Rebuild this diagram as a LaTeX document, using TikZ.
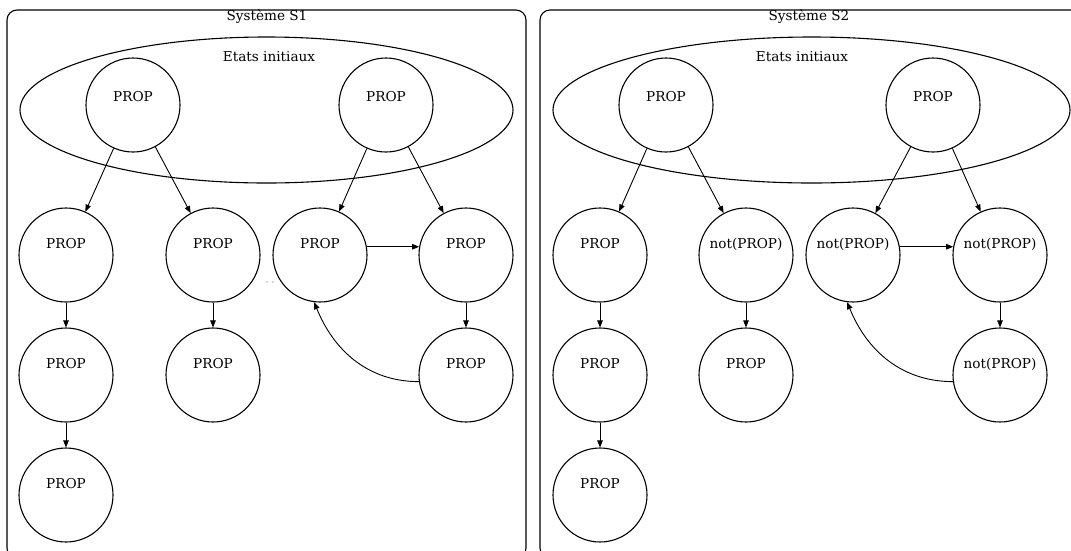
\documentclass[tikz,border=0pt]{standalone}
\usepackage{fontspec}
\setmainfont{DejaVu Serif}
\usetikzlibrary{arrows.meta}
\begin{document}
\begin{tikzpicture}[x=1pt,y=-1pt,
  every node/.style={font=\fontsize{13.6}{16}\selectfont},
  panel/.style={draw,line width=1.1pt,rounded corners=10pt},
  initset/.style={draw,line width=1.1pt},
  state/.style={draw,circle,line width=1.1pt,minimum size=94pt,inner sep=0pt},
  lbl/.style={label={[yshift=11pt]center:#1}},
  toplbl/.style={label={[yshift=8pt]center:#1}},
  arr/.style={line width=0.9pt,-{Triangle[length=7pt,width=5.5pt]}}]
\useasboundingbox (0,0) rectangle (1071,550);

% ---------- panels ----------
\draw[panel] (7,10) rectangle (526,558);
\draw[panel] (540,10) rectangle (1090,558);
\node (t1) at (267,17) {Système S1};
\node (t2) at (809,17) {Système S2};

% initial-state ellipses
\draw[initset] (266.5,110) ellipse [x radius=246.5, y radius=73];
\draw[initset] (811.5,110) ellipse [x radius=258.5, y radius=73];
\node (e1) at (269,57) {Etats initiaux};
\node (e2) at (802,57) {Etats initiaux};

% ---------- System S1 ----------
\node[state,toplbl=PROP] (a0) at (133,105) {};
\node[state,toplbl=PROP] (b0) at (386,105) {};
\node[state,lbl=PROP] (a1) at (66,255) {};
\node[state,lbl=PROP] (a2) at (66,375) {};
\node[state,lbl=PROP] (a3) at (66,495) {};
\node[state,lbl=PROP] (c1) at (213,255) {};
\node[state,lbl=PROP] (c2) at (213,375) {};
\node[state,lbl=PROP] (d1) at (320,255) {};
\node[state,lbl=PROP] (f1) at (466,255) {};
\node[state,lbl=PROP] (f2) at (466,375) {};
% small ellipsis between the two branches
\fill[black!70] (267,282) circle (0.7pt) (273,282) circle (0.7pt);

\draw[arr] (a0) -- (a1);
\draw[arr] (a0) -- (c1);
\draw[arr] (b0) -- (d1);
\draw[arr] (b0) -- (f1);
\draw[arr] (a1) -- (a2);
\draw[arr] (a2) -- (a3);
\draw[arr] (c1) -- (c2);
\draw[arr] (d1.10) -- (f1.170);
\draw[arr] (f1) -- (f2);
\draw[arr] (f2.188) to[out=180,in=-68] (d1.-97);

% ---------- System S2 ----------
\node[state,toplbl=PROP] (g0) at (666,105) {};
\node[state,toplbl=PROP] (h0) at (933,105) {};
\node[state,lbl=PROP] (g1) at (600,255) {};
\node[state,lbl=PROP] (g2) at (600,375) {};
\node[state,lbl=PROP] (g3) at (600,495) {};
\node[state,lbl=not(PROP)] (k1) at (746,255) {};
\node[state,lbl=PROP] (k2) at (746,375) {};
\node[state,lbl=not(PROP)] (m1) at (853,255) {};
\node[state,lbl=not(PROP)] (n1) at (1000,255) {};
\node[state,lbl=not(PROP)] (n2) at (1000,375) {};

\draw[arr] (g0) -- (g1);
\draw[arr] (g0) -- (k1);
\draw[arr] (h0) -- (m1);
\draw[arr] (h0) -- (n1);
\draw[arr] (g1) -- (g2);
\draw[arr] (g2) -- (g3);
\draw[arr] (k1) -- (k2);
\draw[arr] (m1.10) -- (n1.170);
\draw[arr] (n1) -- (n2);
\draw[arr] (n2.188) to[out=180,in=-68] (m1.-97);
\end{tikzpicture}
\end{document}
